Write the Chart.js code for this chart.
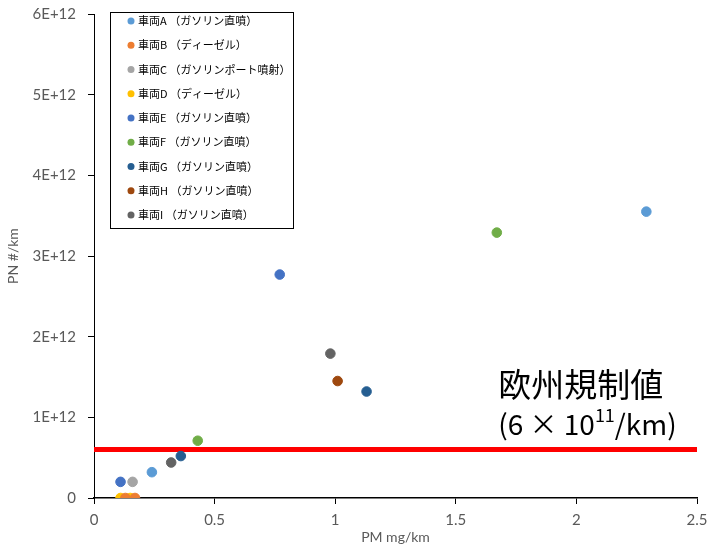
<!DOCTYPE html>
<html>
<head>
<meta charset="utf-8">
<script src="https://cdn.jsdelivr.net/npm/chart.js@4/dist/chart.umd.min.js"></script>
<style>
  html, body { margin: 0; padding: 0; background: #fff; }
  #wrap { width: 710px; height: 548px; }
</style>
</head>
<body>
<div id="wrap"><canvas id="myChart" width="710" height="548"></canvas></div>
<script>
// vehicle labels and marker colours
const vehicles = [
    "車両A （ガソリン直噴）",
    "車両B （ディーゼル）",
    "車両C （ガソリンポート噴射）",
    "車両D （ディーゼル）",
    "車両E （ガソリン直噴）",
    "車両F （ガソリン直噴）",
    "車両G （ガソリン直噴）",
    "車両H （ガソリン直噴）",
    "車両I （ガソリン直噴）"
];
const vehicleColors = ["#5B9BD5", "#ED7D31", "#A5A5A5", "#FFC000", "#4472C4", "#70AD47", "#255E91", "#9E480E", "#636363"];

// PM mg/km per vehicle (two tests each where visible)
const pmValues = [
    [2.29, 0.24],
    [0.17, 0.13],
    [0.16],
    [0.11, 0.15],
    [0.77, 0.11],
    [1.67, 0.43],
    [1.13, 0.36],
    [1.01],
    [0.98, 0.32]
];
// PN #/km per vehicle
const pnValues = [
    [3.55e12, 0.32e12],
    [0.0, 0.0],
    [0.20e12],
    [0.0, 0.0],
    [2.77e12, 0.20e12],
    [3.29e12, 0.71e12],
    [1.32e12, 0.52e12],
    [1.45e12],
    [1.79e12, 0.44e12]
];

// EU limit line
const limitX = [0, 2.5];
const limitY = [6e11, 6e11];

const xTicks = [0, 0.5, 1, 1.5, 2, 2.5];
const yTicks = [0, 1e12, 2e12, 3e12, 4e12, 5e12, 6e12];

const tickColor = "#595959";
const baseFont = "Lato, 'Liberation Sans', sans-serif";
const jpFont = "'Noto Sans CJK JP', sans-serif";

const datasets = [
    {
        type: "line",
        label: "limit",
        data: limitX.map((x, i) => ({ x: x, y: limitY[i] })),
        borderColor: "#FF0000",
        borderWidth: 5,
        pointRadius: 0,
        fill: false,
        order: 10
    }
];
vehicles.forEach((name, i) => {
    datasets.push({
        type: "scatter",
        label: name,
        data: pmValues[i].map((x, j) => ({ x: x, y: pnValues[i][j] })),
        backgroundColor: vehicleColors[i],
        borderColor: vehicleColors[i],
        borderWidth: 1,
        pointRadius: 4.8,
        order: 1
    });
});

// legend box drawn inside the plot, top left
const boxLegend = {
    id: "boxLegend",
    afterDraw(chart) {
        const ctx = chart.ctx;
        const x0 = 110.5, y0 = 12.5, w = 183, h = 216;
        ctx.save();
        ctx.fillStyle = "#fff";
        ctx.fillRect(x0, y0, w, h);
        ctx.strokeStyle = "#000";
        ctx.lineWidth = 1;
        ctx.strokeRect(x0, y0, w, h);
        ctx.font = "11px " + jpFont;
        ctx.textBaseline = "middle";
        vehicles.forEach((name, i) => {
            const y = 21 + i * 24.25;
            ctx.beginPath();
            ctx.fillStyle = vehicleColors[i];
            ctx.arc(131, y, 3.5, 0, Math.PI * 2);
            ctx.fill();
            ctx.fillStyle = "#000";
            ctx.fillText(name, 138, y);
        });
        ctx.restore();
    }
};

// "欧州規制値 (6×10^11/km)" note
const limitNote = {
    id: "limitNote",
    afterDraw(chart) {
        const ctx = chart.ctx;
        const xs = chart.scales.x;
        const left = xs.getPixelForValue(1.676);
        ctx.save();
        ctx.fillStyle = "#000";
        ctx.textBaseline = "alphabetic";
        ctx.font = "33px " + jpFont;
        ctx.fillText("欧州規制値", left, 397);
        ctx.font = "28px " + jpFont;
        let x = left;
        ctx.fillText("(6 × 10", x, 435);
        x += ctx.measureText("(6 × 10").width;
        ctx.font = "18px " + jpFont;
        ctx.fillText("11", x, 422);
        x += ctx.measureText("11").width;
        ctx.font = "28px " + jpFont;
        ctx.fillText("/km)", x, 435);
        ctx.restore();
    }
};

const ctx = document.getElementById("myChart").getContext("2d");
const myChart = new Chart(ctx, {
    data: { datasets: datasets },
    options: {
        responsive: false,
        animation: false,
        layout: { padding: { top: 14, right: 13, left: 5, bottom: 0 } },
        plugins: {
            legend: { display: false },
            tooltip: { enabled: false }
        },
        scales: {
            x: {
                type: "linear",
                min: 0,
                max: 2.5,
                afterBuildTicks: (s) => { s.ticks = xTicks.map(v => ({ value: v })); },
                afterFit: (s) => { s.height = 50; s.paddingLeft = 0; s.paddingRight = 0; },
                grid: { drawOnChartArea: false, drawTicks: true, tickLength: 6, color: "#000" },
                border: { color: "#000", width: 1.5 },
                ticks: {
                    color: tickColor,
                    font: { family: baseFont, size: 15 },
                    padding: 7,
                    maxRotation: 0,
                    callback: (v) => String(v)
                },
                title: {
                    display: true,
                    text: "PM mg/km",
                    color: tickColor,
                    font: { family: baseFont, size: 14 },
                    padding: { top: 0, bottom: 2 }
                }
            },
            y: {
                type: "linear",
                min: 0,
                max: 6e12,
                afterBuildTicks: (s) => { s.ticks = yTicks.map(v => ({ value: v })); },
                afterFit: (s) => { s.width = 89; s.paddingTop = 0; s.paddingBottom = 0; },
                grid: { drawOnChartArea: false, drawTicks: true, tickLength: 6, color: "#000" },
                border: { color: "#000", width: 1 },
                ticks: {
                    color: tickColor,
                    font: { family: baseFont, size: 15 },
                    padding: 12,
                    callback: (v) => v === 0 ? "0" : (v / 1e12) + "E+12"
                },
                title: {
                    display: true,
                    text: "PN #/km",
                    color: tickColor,
                    font: { family: baseFont, size: 14 },
                    padding: { top: 0, bottom: 0 }
                }
            }
        }
    },
    plugins: [boxLegend, limitNote]
});
</script>
</body>
</html>
